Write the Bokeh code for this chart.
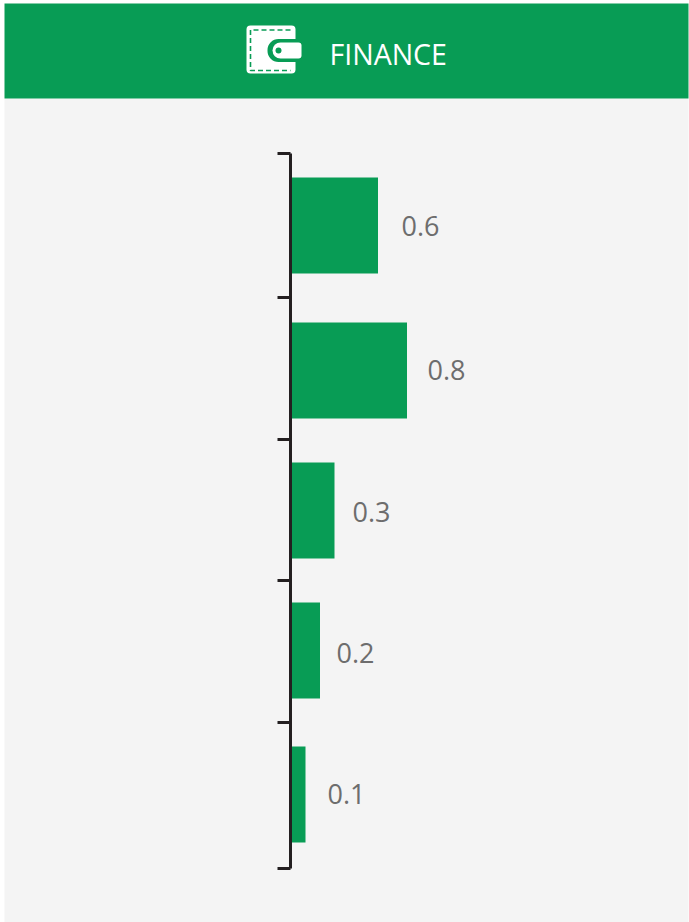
from bokeh.embed import file_html
from bokeh.models import FixedTicker, Range1d
from bokeh.plotting import figure
from bokeh.resources import INLINE

# Chart content
title = "FINANCE"
values = [0.6, 0.8, 0.3, 0.2, 0.1]
value_labels = ["0.6", "0.8", "0.3", "0.2", "0.1"]

# Layout on a page-sized pixel grid
W, H = 689, 922
bar_centers = [225, 370, 510, 650, 794]
bar_height = 96
band_edges = [152.5, 296.5, 438.5, 579.5, 721.5, 867.5]
label_left = [401, 427, 352, 336, 327]
label_mid = [225.5, 369.5, 511.5, 652.5, 793.5]
baseline_x = 290.5
px_per_unit = 145

GREEN = "#089c55"
PANEL = "#f4f4f4"
INK = "#231f20"
GREY = "#6d6d6d"

p = figure(width=W, height=H, output_backend="svg", toolbar_location=None,
           x_range=Range1d(0, W), y_range=Range1d(H, 0),
           min_border=0, outline_line_color=None,
           background_fill_color="white", border_fill_color="white")
p.xaxis.visible = False
p.xgrid.visible = False
p.ygrid.visible = False

# Value scale for the bars, with zero on the baseline
p.extra_x_ranges["value"] = Range1d(-baseline_x / px_per_unit, (W - baseline_x) / px_per_unit)

# Panel and header band
p.quad(left=4, right=688, top=98, bottom=H, fill_color=PANEL, line_color=None)
p.quad(left=4, right=688, top=3, bottom=98, fill_color=GREEN, line_color=None)

# Bars
p.hbar(y=bar_centers, left=0, right=values, height=bar_height, x_range_name="value",
       fill_color=GREEN, line_color=None)

# Band axis with ticks at the category boundaries
ax = p.yaxis[0]
ax.fixed_location = baseline_x - 0.5
ax.bounds = (band_edges[0], band_edges[-1])
ax.ticker = FixedTicker(ticks=band_edges)
ax.axis_line_color = INK
ax.axis_line_width = 3
ax.major_tick_line_color = INK
ax.major_tick_line_width = 3
ax.major_tick_out = 13
ax.major_tick_in = 0
ax.minor_tick_line_color = None
ax.major_label_text_color = None
ax.major_label_text_font_size = "0px"

# Value labels
p.text(x=label_left, y=label_mid, text=value_labels, text_font={"value": "Open Sans"},
       text_font_size="27px", text_color=GREY, text_align="left", text_baseline="middle")

# Wallet icon in the header
p.rect(x=[270.5], y=[49], width=[49], height=[48], fill_color="white", line_color=None,
       border_radius=4)
p.line(x=[290, 250, 250, 290], y=[29.5, 29.5, 70, 70], line_color=GREEN, line_width=1.6,
       line_dash="5 3")
p.rect(x=[284], y=[50], width=[34], height=[23], fill_color=GREEN, line_color=None,
       border_radius=(11, 0, 0, 11))
p.rect(x=[286.5], y=[50], width=[29], height=[16], fill_color="white", line_color=None,
       border_radius=(8, 3, 3, 8))
p.scatter(x=[278], y=[50], size=6, marker="circle", fill_color=GREEN, line_color=None)

# Header title
p.text(x=[329], y=[53], text=[title], text_font={"value": "Open Sans"}, text_font_size="28.5px",
       text_color="white", text_align="left", text_baseline="middle")

open("out.html", "w").write(file_html(p, INLINE))
